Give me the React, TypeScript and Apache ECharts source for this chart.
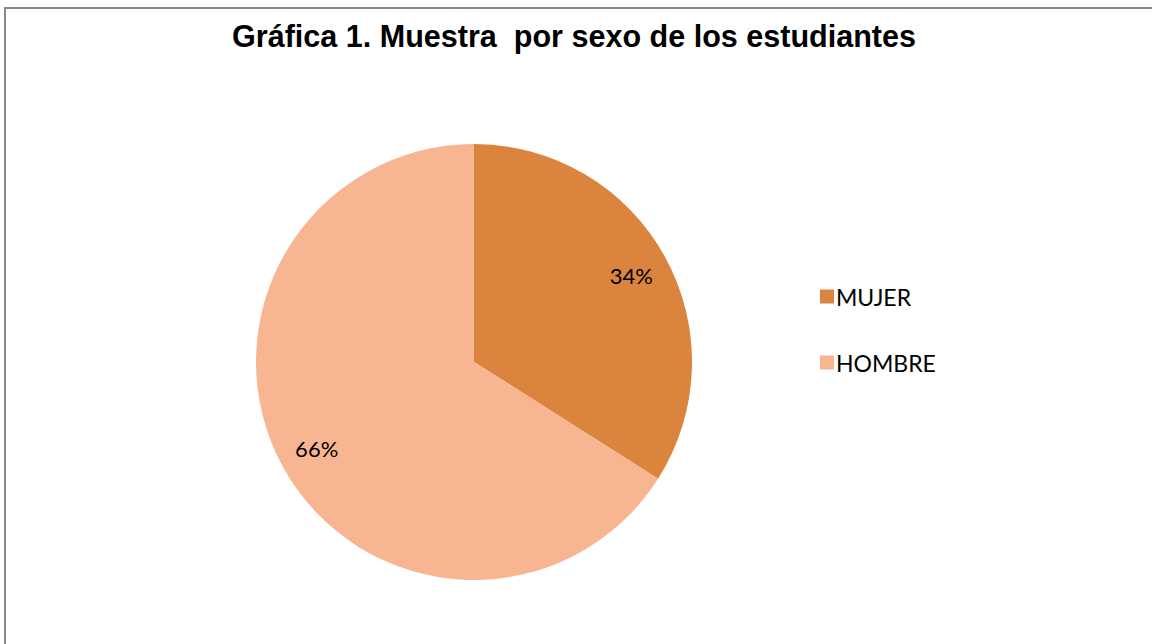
import React, { useEffect, useRef } from "react";
import * as echarts from "echarts";

const titleText = "Gráfica 1. Muestra  por sexo de los estudiantes";
const categories = ["MUJER", "HOMBRE"];
const values = [34, 66];
const colors = ["#DB843E", "#F8B592"];

export default function App() {
  const ref = useRef<HTMLDivElement>(null);
  useEffect(() => {
    if (!ref.current) return;
    const chart = echarts.init(ref.current, undefined, { renderer: "svg" });
    const data = categories.map((c, i) => ({
      name: c,
      value: values[i],
      itemStyle: { color: colors[i] },
    }));
    chart.setOption({
      animation: false,
      backgroundColor: "#ffffff",
      graphic: [
        {
          type: "rect",
          shape: { x: 5, y: 8, width: 1200, height: 700 },
          style: { fill: "none", stroke: "#878787", lineWidth: 2 },
          silent: true,
          z: -1,
        },
        {
          type: "text",
          x: 574,
          y: 36,
          scaleX: 0.97,
          style: {
            text: titleText,
            fontFamily: "'Liberation Sans Narrow', 'Arial Narrow', sans-serif",
            fontWeight: "bold",
            fontSize: 31.5,
            fill: "#000000",
            textAlign: "center",
            textVerticalAlign: "middle",
          },
        },
      ],
      legend: {
        orient: "vertical",
        left: 815,
        top: 280,
        itemWidth: 14,
        itemHeight: 14,
        itemGap: 43,
        icon: "rect",
        data: categories,
        textStyle: {
          fontFamily: "Lato, 'Open Sans', sans-serif",
          fontSize: 23,
          lineHeight: 22,
          color: "#000000",
          padding: [0, 0, 0, -3],
        },
      },
      series: [
        {
          type: "pie",
          center: [474, 362],
          radius: 218,
          startAngle: 90,
          clockwise: true,
          label: { show: false },
          labelLine: { show: false },
          emphasis: { disabled: true },
          data,
        },
        {
          type: "pie",
          center: [474, 362],
          radius: [135, 218],
          startAngle: 90,
          clockwise: true,
          silent: true,
          itemStyle: { color: "rgba(0,0,0,0)" },
          label: {
            show: true,
            position: "inside",
            formatter: "{d}%",
            fontFamily: "Lato, 'Open Sans', sans-serif",
            fontSize: 22,
            color: "#000000",
          },
          labelLine: { show: false },
          emphasis: { disabled: true },
          data: categories.map((c, i) => ({
            name: c,
            value: values[i],
            itemStyle: { color: "rgba(0,0,0,0)" },
          })),
        },
      ],
    });
    return () => chart.dispose();
  }, []);
  return (
    <div
      ref={ref}
      style={{ position: "fixed", left: 0, top: 0, width: 1152, height: 644 }}
    />
  );
}
